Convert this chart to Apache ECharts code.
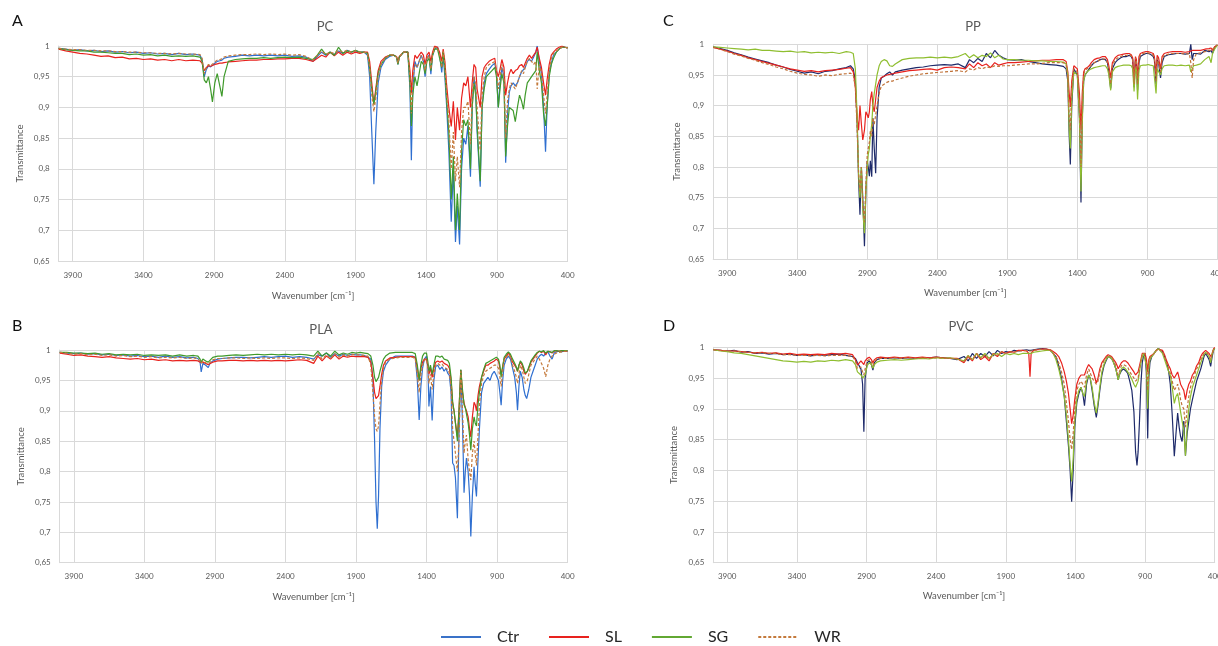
<!DOCTYPE html>
<html>
<head>
<meta charset="utf-8">
<title>FTIR spectra</title>
<script src="https://cdn.jsdelivr.net/npm/echarts@6/dist/echarts.min.js"></script>
<style>
  html, body { margin: 0; padding: 0; background: #ffffff; }
  #chart { width: 1218px; height: 646px; }
</style>
</head>
<body>
<div id="chart"></div>
<script>
// ---- Panel A: PC ----
const pcWavenumber = [
  4000,3950,3900,3850,3800,3750,3700,3650,3600,3550,
  3500,3450,3400,3350,3300,3250,3200,3150,3100,3050,
  3000,2985,2970,2955,2940,2925,2912,2895,2878,2860,
  2845,2830,2800,2750,2700,2650,2600,2550,2500,2450,
  2400,2350,2300,2250,2200,2170,2140,2110,2080,2050,
  2020,1990,1960,1930,1900,1870,1840,1815,1800,1785,
  1770,1757,1740,1720,1690,1660,1630,1610,1600,1590,
  1560,1530,1515,1505,1495,1480,1465,1450,1435,1420,
  1408,1395,1380,1367,1355,1340,1320,1305,1290,1280,
  1268,1255,1240,1223,1208,1193,1180,1164,1150,1135,
  1120,1105,1087,1075,1062,1050,1040,1018,1005,990,
  975,955,935,915,903,890,878,865,850,838,
  825,812,800,785,770,755,740,725,712,700,
  685,670,655,640,625,615,600,585,570,556,
  545,530,515,500,480,460,440,420,400
];
const pcCtr = [
  .996,.995,.993,.994,.992,.993,.991,.992,.990,.991,
  .989,.990,.988,.989,.987,.988,.986,.988,.986,.987,
  .985,.978,.950,.962,.968,.966,.968,.972,.975,.976,
  .977,.980,.982,.983,.985,.984,.985,.984,.985,.984,
  .985,.983,.984,.982,.975,.983,.990,.985,.990,.986,
  .992,.988,.993,.990,.992,.990,.990,.985,.950,.860,
  .775,.860,.940,.965,.978,.983,.985,.982,.970,.982,
  .990,.990,.930,.814,.930,.975,.965,.975,.985,.975,
  .950,.980,.985,.954,.985,.995,.998,.985,.957,.985,
  .950,.900,.830,.714,.800,.681,.740,.677,.800,.850,
  .840,.870,.787,.900,.950,.930,.860,.771,.900,.940,
  .955,.962,.968,.972,.955,.900,.940,.965,.950,.810,
  .890,.925,.935,.940,.935,.940,.950,.958,.955,.965,
  .975,.978,.975,.982,.990,1.00,.975,.955,.900,.828,
  .900,.955,.972,.985,.990,.995,.998,.998,.997
];
const pcSL = [
  .995,.992,.990,.988,.987,.985,.983,.984,.981,.982,
  .979,.980,.978,.979,.977,.978,.976,.978,.976,.977,
  .976,.972,.960,.965,.968,.967,.968,.970,.971,.972,
  .972,.973,.974,.975,.976,.977,.977,.978,.978,.979,
  .979,.980,.980,.978,.975,.980,.985,.982,.990,.984,
  .990,.985,.990,.987,.990,.988,.990,.990,.975,.940,
  .905,.930,.960,.975,.982,.985,.985,.983,.975,.983,
  .990,.990,.960,.923,.960,.985,.980,.985,.990,.985,
  .970,.985,.990,.975,.990,1.00,.998,.990,.975,.995,
  .975,.935,.900,.869,.910,.847,.900,.863,.915,.940,
  .935,.950,.900,.940,.970,.965,.930,.900,.950,.965,
  .970,.975,.978,.980,.960,.950,.962,.978,.965,.920,
  .940,.955,.962,.955,.960,.962,.968,.970,.965,.972,
  .980,.985,.980,.985,.990,.998,.980,.965,.940,.920,
  .945,.970,.985,.990,.995,.998,1.00,.998,.997
];
const pcSG = [
  .996,.994,.993,.992,.992,.990,.990,.989,.988,.988,
  .986,.987,.985,.986,.984,.985,.983,.984,.983,.984,
  .982,.975,.945,.940,.950,.930,.909,.940,.955,.935,
  .918,.950,.975,.978,.979,.980,.980,.981,.980,.981,
  .982,.981,.982,.980,.978,.985,.995,.986,.990,.985,
  .998,.988,.992,.990,.993,.990,.990,.988,.965,.930,
  .905,.925,.955,.970,.980,.985,.985,.982,.970,.982,
  .990,.990,.940,.870,.920,.950,.935,.955,.975,.970,
  .955,.975,.980,.960,.985,.995,.995,.980,.965,.990,
  .960,.910,.860,.750,.820,.700,.760,.700,.830,.880,
  .870,.880,.800,.900,.940,.920,.870,.780,.900,.930,
  .950,.955,.960,.965,.950,.900,.930,.955,.940,.820,
  .870,.900,.900,.895,.877,.900,.920,.910,.897,.920,
  .940,.945,.950,.955,.960,.990,.960,.940,.890,.870,
  .900,.950,.970,.980,.990,.995,.998,.998,.997
];
const pcWR = [
  .996,.995,.994,.994,.993,.993,.992,.992,.991,.991,
  .990,.990,.989,.989,.988,.988,.987,.988,.987,.987,
  .986,.980,.955,.965,.970,.968,.970,.974,.977,.978,
  .979,.982,.984,.985,.986,.986,.987,.986,.987,.986,
  .987,.985,.986,.983,.977,.985,.992,.986,.990,.988,
  .993,.990,.993,.990,.992,.990,.990,.988,.965,.920,
  .893,.915,.950,.970,.980,.985,.985,.982,.972,.982,
  .990,.990,.950,.890,.945,.970,.965,.975,.985,.975,
  .960,.980,.985,.962,.985,.998,.997,.985,.965,.992,
  .970,.920,.880,.800,.860,.780,.820,.770,.860,.900,
  .900,.910,.840,.920,.950,.940,.900,.830,.920,.950,
  .965,.970,.972,.975,.960,.930,.950,.970,.955,.850,
  .910,.930,.940,.935,.930,.940,.950,.960,.955,.965,
  .975,.980,.975,.970,.975,.930,.970,.955,.920,.890,
  .920,.960,.980,.988,.992,.995,.998,.998,.997
];

// ---- Panel B: PLA ----
const plaWavenumber = [
  4000,3950,3900,3850,3800,3750,3700,3650,3600,3550,
  3500,3450,3400,3350,3300,3250,3200,3150,3100,3050,
  3020,3005,2997,2985,2965,2947,2935,2915,2880,2850,
  2800,2750,2700,2650,2600,2550,2500,2450,2400,2350,
  2300,2250,2200,2170,2140,2110,2080,2050,2020,1990,
  1960,1930,1900,1870,1840,1815,1795,1780,1768,1758,
  1749,1740,1730,1718,1705,1690,1660,1620,1580,1540,
  1500,1480,1465,1452,1440,1428,1415,1400,1390,1383,
  1372,1360,1348,1335,1320,1305,1290,1275,1262,1250,
  1238,1226,1215,1205,1195,1181,1170,1157,1145,1134,
  1125,1117,1105,1095,1086,1075,1063,1055,1046,1035,
  1025,1010,995,980,965,950,935,920,905,890,
  880,871,862,850,835,820,805,790,775,763,
  755,745,735,722,710,700,690,685,675,660,
  645,630,615,600,585,570,555,540,525,510,
  495,480,460,440,420,400
];
const plaCtr = [
  .996,.995,.994,.995,.993,.994,.992,.993,.991,.992,
  .990,.991,.989,.990,.988,.990,.988,.989,.987,.988,
  .986,.980,.964,.978,.975,.971,.978,.982,.985,.986,
  .987,.988,.988,.987,.988,.989,.988,.989,.990,.988,
  .989,.988,.985,.992,.990,.995,.988,.994,.990,.993,
  .991,.993,.992,.992,.991,.988,.985,.950,.850,.750,
  .706,.760,.870,.940,.965,.975,.985,.990,.990,.990,
  .990,.988,.950,.885,.940,.970,.985,.990,.970,.907,
  .940,.884,.950,.973,.975,.968,.972,.965,.970,.962,
  .958,.930,.814,.810,.790,.723,.860,.967,.880,.765,
  .800,.822,.800,.760,.693,.760,.808,.780,.759,.820,
  .870,.930,.945,.950,.955,.950,.960,.965,.958,.950,
  .930,.909,.945,.975,.985,.990,.985,.970,.955,.930,
  .901,.940,.965,.955,.935,.925,.920,.920,.935,.955,
  .965,.975,.985,.990,.993,.990,.995,.997,.990,.985,
  .995,.997,.998,.997,.999,.998
];
const plaSL = [
  .995,.993,.991,.992,.990,.989,.988,.989,.987,.986,
  .985,.986,.984,.985,.983,.984,.982,.983,.982,.983,
  .982,.980,.978,.980,.978,.976,.978,.980,.982,.982,
  .983,.983,.982,.983,.982,.983,.982,.983,.982,.983,
  .984,.983,.978,.990,.982,.990,.985,.992,.985,.990,
  .988,.990,.989,.989,.989,.988,.980,.955,.930,.920,
  .920,.925,.940,.960,.975,.982,.987,.988,.989,.989,
  .989,.988,.970,.950,.970,.980,.985,.985,.975,.960,
  .970,.955,.970,.980,.982,.980,.982,.978,.980,.975,
  .970,.950,.913,.900,.880,.857,.900,.967,.930,.913,
  .905,.900,.890,.870,.857,.890,.914,.910,.900,.925,
  .940,.955,.965,.975,.975,.978,.980,.982,.985,.982,
  .970,.960,.970,.985,.990,.995,.990,.980,.975,.970,
  .965,.975,.980,.975,.965,.960,.962,.965,.970,.980,
  .985,.990,.995,.998,.996,.998,.992,.998,.997,.995,
  .998,.999,.998,.999,.998,.998
];
const plaSG = [
  .996,.996,.995,.995,.994,.995,.993,.994,.992,.993,
  .992,.993,.991,.992,.991,.992,.990,.992,.990,.991,
  .990,.985,.980,.985,.982,.980,.983,.988,.990,.990,
  .991,.992,.991,.992,.993,.992,.993,.992,.993,.992,
  .993,.992,.990,.998,.990,.995,.990,.998,.992,.995,
  .993,.996,.995,.996,.995,.994,.990,.975,.955,.948,
  .948,.955,.965,.975,.985,.990,.995,.996,.996,.996,
  .996,.994,.975,.950,.975,.990,.995,.995,.980,.965,
  .975,.960,.975,.990,.990,.988,.990,.985,.988,.983,
  .978,.955,.915,.900,.880,.850,.900,.968,.935,.910,
  .905,.895,.880,.860,.835,.870,.890,.880,.875,.910,
  .930,.955,.968,.978,.980,.982,.984,.986,.988,.985,
  .975,.955,.970,.988,.993,.997,.993,.985,.978,.972,
  .965,.975,.982,.978,.970,.962,.962,.965,.972,.982,
  .987,.992,.996,.998,.997,.999,.995,.998,.997,.996,
  .999,.999,.998,.999,.999,.999
];
const plaWR = [
  .996,.995,.993,.994,.992,.993,.991,.992,.990,.991,
  .989,.990,.988,.989,.987,.988,.987,.988,.986,.987,
  .985,.982,.978,.982,.979,.977,.980,.984,.986,.986,
  .987,.987,.986,.987,.986,.987,.986,.987,.987,.986,
  .987,.986,.983,.995,.985,.992,.986,.994,.988,.992,
  .990,.993,.992,.992,.991,.990,.975,.930,.890,.870,
  .866,.875,.910,.950,.970,.980,.985,.987,.988,.988,
  .988,.986,.960,.930,.960,.975,.983,.985,.970,.945,
  .960,.935,.960,.975,.978,.975,.977,.972,.975,.968,
  .962,.940,.870,.850,.830,.800,.850,.965,.900,.830,
  .850,.860,.820,.800,.786,.830,.850,.830,.810,.860,
  .910,.945,.958,.965,.968,.970,.972,.975,.975,.970,
  .955,.940,.960,.983,.988,.993,.988,.975,.965,.955,
  .945,.960,.975,.968,.955,.945,.945,.950,.960,.975,
  .980,.985,.990,.985,.978,.970,.956,.975,.985,.990,
  .993,.995,.996,.997,.998,.998
];

// ---- Panel C: PP ----
const ppWavenumber = [
  4000,3950,3900,3850,3800,3750,3700,3650,3600,3550,
  3500,3450,3400,3350,3300,3250,3200,3150,3100,3050,
  3020,3000,2985,2972,2962,2952,2942,2932,2920,2910,
  2900,2893,2885,2878,2868,2860,2850,2840,2830,2815,
  2800,2780,2760,2740,2720,2700,2650,2600,2550,2500,
  2450,2400,2350,2300,2250,2200,2170,2140,2110,2080,
  2050,2020,1990,1960,1930,1900,1850,1800,1750,1700,
  1650,1600,1550,1500,1480,1468,1458,1450,1440,1425,
  1412,1400,1385,1374,1365,1355,1345,1330,1315,1300,
  1280,1260,1240,1220,1200,1185,1175,1162,1150,1130,
  1110,1090,1070,1050,1030,1015,1005,995,985,978,
  970,960,950,930,910,895,880,868,858,850,
  838,830,820,806,795,780,750,720,690,660,
  630,600,590,580,570,550,520,490,460,445,
  435,420,400
];
const ppCtr = [
  .996,.993,.990,.986,.983,.979,.976,.973,.970,.966,
  .963,.959,.956,.953,.955,.952,.956,.957,.960,.962,
  .965,.960,.940,.870,.780,.722,.800,.750,.671,.760,
  .810,.800,.785,.810,.784,.880,.830,.790,.880,.930,
  .945,.948,.952,.955,.950,.955,.958,.960,.962,.963,
  .965,.966,.967,.966,.968,.962,.975,.970,.977,.972,
  .985,.978,.990,.982,.978,.975,.974,.975,.972,.970,
  .968,.967,.966,.964,.960,.940,.850,.804,.900,.960,
  .962,.950,.880,.742,.880,.940,.950,.955,.960,.965,
  .970,.972,.975,.976,.975,.970,.955,.928,.960,.970,
  .975,.978,.980,.980,.982,.980,.975,.930,.975,.970,
  .925,.970,.980,.983,.985,.985,.984,.983,.980,.975,
  .935,.975,.970,.945,.970,.980,.983,.984,.985,.985,
  .984,.985,1.00,.975,.985,.985,.984,.990,.988,.990,
  .985,.995,.999
];
const ppSL = [
  .995,.992,.989,.985,.982,.978,.975,.972,.969,.966,
  .963,.960,.958,.956,.957,.955,.957,.958,.959,.961,
  .962,.955,.930,.880,.860,.900,.870,.844,.860,.890,
  .885,.880,.890,.910,.923,.900,.890,.910,.930,.940,
  .946,.948,.950,.951,.952,.953,.955,.957,.958,.959,
  .960,.958,.962,.963,.962,.960,.968,.962,.970,.965,
  .968,.962,.970,.966,.968,.970,.970,.971,.972,.973,
  .974,.974,.975,.975,.972,.955,.920,.898,.940,.965,
  .968,.960,.920,.860,.920,.955,.960,.962,.965,.970,
  .975,.977,.978,.980,.980,.975,.965,.945,.970,.978,
  .982,.983,.984,.985,.985,.983,.978,.940,.980,.975,
  .945,.980,.985,.987,.988,.988,.987,.986,.985,.980,
  .950,.982,.978,.960,.980,.985,.987,.988,.988,.988,
  .987,.988,.985,.990,.988,.990,.990,.992,.993,.994,
  .990,.996,.999
];
const ppSG = [
  .996,.995,.994,.993,.992,.991,.992,.990,.990,.989,
  .988,.989,.987,.988,.986,.987,.986,.987,.985,.988,
  .987,.985,.960,.880,.790,.750,.800,.730,.692,.760,
  .800,.820,.830,.850,.870,.900,.920,.935,.950,.965,
  .972,.975,.973,.965,.964,.968,.975,.977,.978,.978,
  .979,.978,.979,.978,.980,.985,.978,.983,.978,.982,
  .980,.986,.978,.982,.976,.975,.975,.974,.974,.973,
  .973,.972,.972,.971,.968,.950,.860,.830,.910,.955,
  .958,.950,.880,.760,.870,.940,.950,.955,.958,.960,
  .962,.963,.964,.965,.965,.960,.950,.925,.955,.962,
  .964,.965,.966,.966,.966,.965,.960,.923,.962,.958,
  .910,.958,.965,.966,.966,.967,.966,.966,.965,.962,
  .920,.960,.962,.950,.960,.965,.966,.966,.965,.966,
  .965,.966,.955,.960,.965,.966,.968,.975,.980,.970,
  .985,.992,.999
];
const ppWR = [
  .995,.992,.988,.984,.981,.977,.974,.970,.967,.963,
  .960,.956,.953,.951,.950,.948,.950,.949,.951,.952,
  .953,.950,.930,.860,.790,.760,.800,.740,.710,.770,
  .820,.830,.840,.860,.850,.880,.870,.870,.900,.920,
  .932,.935,.938,.940,.940,.942,.945,.948,.950,.952,
  .953,.954,.955,.956,.957,.955,.960,.958,.962,.960,
  .963,.962,.965,.964,.965,.965,.966,.967,.968,.968,
  .969,.970,.970,.970,.967,.945,.880,.860,.930,.960,
  .962,.955,.900,.800,.900,.950,.958,.960,.962,.966,
  .970,.972,.974,.976,.976,.970,.960,.935,.965,.975,
  .978,.980,.982,.982,.983,.981,.976,.935,.978,.972,
  .935,.975,.983,.985,.986,.986,.985,.984,.982,.978,
  .940,.978,.975,.955,.975,.982,.984,.985,.985,.985,
  .984,.985,.970,.945,.975,.985,.986,.988,.990,.990,
  .987,.995,.999
];

// ---- Panel D: PVC ----
const pvcWavenumber = [
  4000,3950,3900,3850,3800,3750,3700,3650,3600,3550,
  3500,3450,3400,3350,3300,3250,3200,3150,3100,3050,
  3000,2980,2965,2955,2940,2928,2919,2910,2895,2880,
  2865,2854,2843,2825,2800,2750,2700,2650,2600,2550,
  2500,2450,2400,2350,2300,2250,2200,2170,2140,2110,
  2080,2050,2020,1990,1960,1930,1900,1870,1840,1810,
  1780,1750,1735,1726,1718,1700,1670,1640,1610,1580,
  1560,1540,1520,1500,1480,1465,1450,1438,1427,1416,
  1405,1390,1375,1360,1347,1335,1320,1305,1294,1280,
  1265,1250,1238,1225,1210,1195,1180,1165,1154,1140,
  1125,1110,1100,1093,1085,1070,1055,1040,1025,1010,
  995,980,968,958,950,940,930,920,912,900,
  890,881,873,865,852,835,820,805,791,775,
  760,745,730,719,705,690,678,666,655,645,
  634,622,610,598,586,574,560,545,530,515,
  500,488,477,465,452,440,429,418,409,400
];
const pvcCtr = [
  .996,.995,.994,.995,.992,.993,.990,.991,.989,.990,
  .988,.989,.987,.988,.986,.988,.987,.988,.989,.987,
  .985,.982,.975,.972,.965,.940,.863,.950,.975,.978,
  .972,.963,.975,.980,.982,.982,.983,.982,.983,.982,
  .983,.983,.984,.983,.982,.980,.985,.978,.990,.982,
  .990,.985,.993,.986,.995,.990,.993,.992,.995,.994,
  .995,.996,.995,.995,.995,.996,.997,.998,.997,.995,
  .990,.985,.970,.950,.920,.880,.840,.800,.749,.800,
  .870,.910,.925,.935,.925,.905,.940,.955,.950,.930,
  .905,.886,.905,.930,.955,.970,.978,.985,.985,.982,
  .975,.965,.955,.947,.955,.962,.965,.962,.958,.945,
  .930,.895,.830,.808,.830,.880,.940,.975,.985,.990,
  .960,.852,.950,.975,.985,.990,.995,.998,1.00,.993,
  .985,.975,.960,.940,.890,.823,.860,.893,.870,.855,
  .847,.880,.824,.860,.880,.900,.915,.930,.945,.955,
  .965,.975,.985,.990,.985,.980,.969,.985,.995,.998
];
const pvcSL = [
  .996,.995,.994,.994,.993,.992,.991,.992,.990,.991,
  .989,.990,.988,.989,.988,.989,.988,.990,.989,.990,
  .988,.980,.971,.972,.978,.975,.972,.978,.982,.984,
  .980,.975,.980,.983,.984,.983,.984,.983,.984,.983,
  .984,.983,.984,.983,.982,.982,.975,.985,.978,.990,
  .980,.985,.978,.990,.985,.993,.990,.993,.992,.995,
  .995,.994,.990,.952,.990,.995,.996,.997,.997,.996,
  .993,.990,.985,.975,.960,.945,.925,.900,.876,.890,
  .915,.940,.950,.955,.955,.955,.965,.972,.975,.965,
  .955,.942,.950,.965,.975,.980,.985,.988,.990,.985,
  .980,.975,.970,.965,.968,.975,.978,.978,.975,.970,
  .965,.960,.955,.955,.960,.970,.980,.990,.992,.990,
  .980,.960,.980,.985,.988,.990,.995,.997,1.00,.995,
  .988,.978,.970,.965,.955,.950,.955,.960,.950,.940,
  .935,.930,.915,.930,.940,.945,.955,.960,.970,.975,
  .985,.990,.992,.995,.997,.990,.985,.990,.997,1.00
];
const pvcSG = [
  .996,.994,.993,.991,.990,.988,.986,.984,.982,.980,
  .978,.977,.976,.977,.976,.978,.977,.979,.978,.980,
  .978,.972,.960,.958,.955,.950,.947,.955,.970,.975,
  .972,.966,.972,.976,.978,.979,.980,.979,.980,.981,
  .982,.981,.983,.982,.983,.981,.978,.987,.980,.990,
  .983,.990,.982,.988,.990,.985,.990,.988,.990,.988,
  .990,.990,.990,.990,.990,.992,.993,.994,.995,.995,
  .990,.980,.965,.945,.920,.890,.850,.810,.782,.820,
  .880,.915,.930,.935,.925,.920,.945,.955,.950,.935,
  .910,.893,.910,.935,.960,.972,.980,.985,.985,.982,
  .975,.965,.955,.947,.955,.965,.968,.965,.960,.955,
  .948,.940,.935,.935,.945,.960,.975,.985,.990,.990,
  .970,.900,.965,.980,.985,.990,.995,.998,1.00,.990,
  .980,.970,.960,.955,.935,.909,.920,.925,.910,.895,
  .880,.865,.824,.870,.900,.920,.935,.945,.955,.965,
  .975,.982,.988,.992,.990,.985,.975,.990,.995,.998
];
const pvcWR = [
  .996,.995,.994,.994,.993,.992,.991,.991,.990,.990,
  .988,.988,.987,.987,.986,.987,.986,.987,.987,.987,
  .985,.978,.965,.965,.968,.960,.955,.965,.978,.980,
  .976,.970,.977,.981,.982,.982,.983,.982,.983,.982,
  .983,.982,.983,.982,.982,.981,.977,.986,.980,.990,
  .982,.988,.980,.990,.987,.993,.990,.992,.992,.994,
  .994,.995,.994,.993,.994,.995,.996,.997,.996,.995,
  .990,.985,.975,.960,.940,.910,.880,.850,.834,.860,
  .900,.930,.940,.945,.940,.935,.955,.965,.965,.950,
  .945,.940,.945,.960,.972,.978,.983,.987,.988,.984,
  .978,.970,.960,.955,.960,.970,.972,.970,.968,.960,
  .955,.950,.945,.945,.950,.965,.978,.988,.990,.990,
  .975,.930,.975,.983,.987,.990,.995,.998,1.00,.993,
  .985,.975,.965,.958,.945,.930,.935,.940,.930,.915,
  .905,.900,.870,.900,.920,.935,.945,.955,.965,.970,
  .980,.986,.990,.993,.990,.985,.980,.990,.996,.998
];

const seriesNames = ['Ctr', 'SL', 'SG', 'WR'];
const FONT = 'Lato, "Open Sans", "DejaVu Sans", sans-serif';
const GRID_COLOR = '#D9D9D9';
const TEXT_GRAY = '#595959';

const colorsAB = { Ctr: '#2F6FD0', SL: '#E8221E', SG: '#3F9A2B', WR: '#C47A3C' };
const colorsCD = { Ctr: '#1E2A6A', SL: '#E8221E', SG: '#8FBE30', WR: '#C07238' };
const legendColors = { Ctr: '#3A72C8', SL: '#E8221E', SG: '#62A833', WR: '#C47A3C' };

const panels = [
  { letter: 'A', title: 'PC', wn: pcWavenumber, data: [pcCtr, pcSL, pcSG, pcWR], colors: colorsAB,
    grid: { left: 58.6, top: 46, width: 509, height: 215 },
    letterPos: [12, 13], titlePos: [325, 20], yNameGap: 34, xNameGap: 30 },
  { letter: 'B', title: 'PLA', wn: plaWavenumber, data: [plaCtr, plaSL, plaSG, plaWR], colors: colorsAB,
    grid: { left: 59.7, top: 350, width: 507.9, height: 212.7 },
    letterPos: [12, 318], titlePos: [321, 323], yNameGap: 34, xNameGap: 29 },
  { letter: 'C', title: 'PP', wn: ppWavenumber, data: [ppCtr, ppSL, ppSG, ppWR], colors: colorsCD,
    grid: { left: 713.2, top: 44.3, width: 504.2, height: 214.7 },
    letterPos: [663, 13], titlePos: [973, 20], yNameGap: 31, xNameGap: 29 },
  { letter: 'D', title: 'PVC', wn: pvcWavenumber, data: [pvcCtr, pvcSL, pvcSG, pvcWR], colors: colorsCD,
    grid: { left: 713.3, top: 347.3, width: 501.4, height: 215.4 },
    letterPos: [663, 318], titlePos: [961, 320], yNameGap: 34, xNameGap: 28 }
];

const fmtT = v => String(Math.round(v * 100) / 100).replace('.', ',');
const fmtW = v => String(Math.round(v));

const option = {
  animation: false,
  backgroundColor: '#ffffff',
  textStyle: { fontFamily: FONT },
  title: [],
  grid: [],
  xAxis: [],
  yAxis: [],
  series: [],
  legend: {
    left: 435, top: 624,
    itemWidth: 40, itemHeight: 14, itemGap: 29,
    textStyle: { fontSize: 16, color: '#262626', fontFamily: FONT, padding: [0, 0, 0, 11] },
    data: seriesNames.map(n => ({
      name: n,
      lineStyle: { color: legendColors[n], opacity: 1 },
      itemStyle: { color: legendColors[n], opacity: 0 }
    }))
  }
};

panels.forEach((p, i) => {
  option.title.push({
    text: p.letter, left: p.letterPos[0], top: p.letterPos[1], padding: 0,
    textStyle: { fontSize: 16, fontWeight: 'normal', color: '#111111', fontFamily: FONT }
  });
  option.title.push({
    text: p.title, left: p.titlePos[0], top: p.titlePos[1], textAlign: 'center', padding: 0,
    textStyle: { fontSize: 13, fontWeight: 'normal', color: TEXT_GRAY, fontFamily: FONT }
  });
  option.grid.push(Object.assign({ containLabel: false, outerBoundsMode: 'none' }, p.grid));
  option.xAxis.push({
    type: 'value', gridIndex: i, min: 400, max: 4000, interval: 500, inverse: true,
    axisLine: { show: true, lineStyle: { color: GRID_COLOR, width: 1 } },
    axisTick: { show: false },
    axisLabel: { fontSize: 8, color: TEXT_GRAY, margin: 10, showMaxLabel: false, showMinLabel: true,
                 formatter: fmtW, fontFamily: FONT },
    splitLine: { show: true, lineStyle: { color: GRID_COLOR, width: 1 } },
    name: 'Wavenumber [cm\u207B\u00B9]', nameLocation: 'middle', nameGap: p.xNameGap,
    nameTextStyle: { fontSize: 9.5, color: TEXT_GRAY, fontFamily: FONT }
  });
  option.yAxis.push({
    type: 'value', gridIndex: i, min: 0.65, max: 1, interval: 0.05,
    axisLine: { show: true, lineStyle: { color: GRID_COLOR, width: 1 } },
    axisTick: { show: false },
    axisLabel: { fontSize: 8, color: TEXT_GRAY, margin: 9, formatter: fmtT, fontFamily: FONT },
    splitLine: { show: true, lineStyle: { color: GRID_COLOR, width: 1 } },
    name: 'Transmittance', nameLocation: 'middle', nameRotate: 90, nameGap: p.yNameGap,
    nameTextStyle: { fontSize: 9.5, color: TEXT_GRAY, fontFamily: FONT }
  });
  seriesNames.forEach((name, k) => {
    const values = p.data[k];
    const color = p.colors[name];
    option.series.push({
      type: 'line', name: name, xAxisIndex: i, yAxisIndex: i,
      data: p.wn.map((w, j) => [w, values[j]]),
      showSymbol: false, symbol: 'none', smooth: false,
      lineStyle: { color: color, width: 1.2, type: name === 'WR' ? [3, 2] : 'solid' },
      itemStyle: { color: color },
      emphasis: { disabled: true },
      z: 2 + k
    });
  });
});

const chart = echarts.init(document.getElementById('chart'), null, { renderer: 'canvas' });
chart.setOption(option);
</script>
</body>
</html>
